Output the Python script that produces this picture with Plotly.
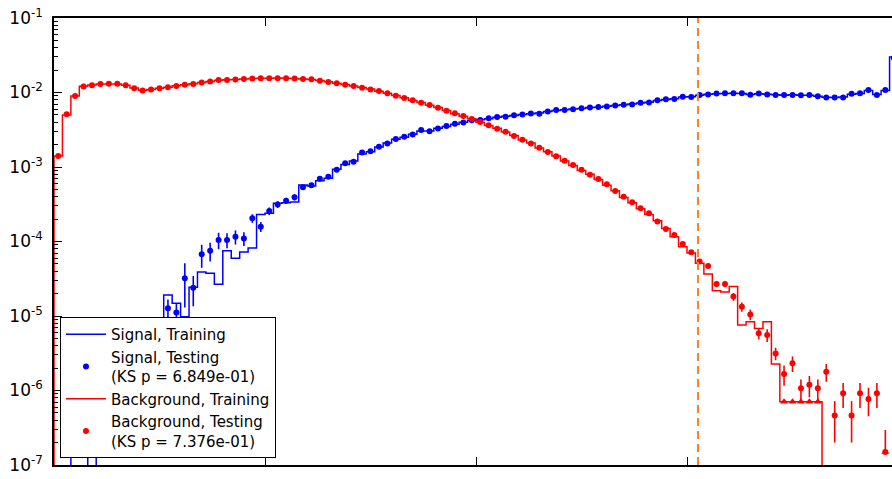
import plotly.graph_objects as go

# ---------------- data (100 bins on [0, 1]) ----------------
n_bins = 100
x_min, x_max = 0.0, 1.0

sig_train = [0, 0, 3e-7, 3e-7, 0, 4e-7, 1e-6, 1.2e-6, 2e-6, 2.5e-6,
             3.5e-6, 5e-6, 6e-6, 1.91e-5, 1.48e-5, 9.8e-6, 2.43e-5, 3.9e-5, 3.74e-5, 2.67e-5,
             7.5e-5, 5.95e-5, 7.25e-5, 8.2e-5, 2.3e-4, 2.39e-4, 3.26e-4, 3.3e-4, 3.4e-4, 5.73e-4,
             5.55e-4, 6.55e-4, 7.05e-4, 9.3e-4, 1.08e-3, 1.2e-3, 1.5e-3, 1.6e-3, 1.85e-3, 2.1e-3,
             2.35e-3, 2.5e-3, 2.75e-3, 3.05e-3, 3.05e-3, 3.3e-3, 3.5e-3, 3.75e-3, 4.0e-3, 4.2e-3,
             4.3e-3, 4.45e-3, 4.65e-3, 4.8e-3, 4.9e-3, 5.05e-3, 5.2e-3, 5.3e-3, 5.55e-3, 5.75e-3,
             5.85e-3, 6.0e-3, 6.1e-3, 6.3e-3, 6.35e-3, 6.55e-3, 6.7e-3, 6.85e-3, 7.0e-3, 7.25e-3,
             7.4e-3, 7.8e-3, 8.05e-3, 8.25e-3, 8.7e-3, 8.8e-3, 9.2e-3, 9.45e-3, 9.65e-3, 9.7e-3,
             9.8e-3, 9.7e-3, 9.4e-3, 9.65e-3, 9.45e-3, 9.3e-3, 9.2e-3, 9.3e-3, 9.2e-3, 9.2e-3,
             8.9e-3, 8.65e-3, 8.6e-3, 8.7e-3, 9.5e-3, 9.7e-3, 1.06e-2, 9.4e-3, 1.06e-2, 3.0e-2]

sig_test = [0, 0, 2e-7, 4e-7, 0, 5e-7, 8e-7, 1.5e-6, 2e-6, 3e-6,
            4e-6, 5e-6, 7e-6, 1.27e-5, 1.11e-5, 3.2e-5, 2.4e-5, 6.73e-5, 7.5e-5, 1.05e-4,
            1.05e-4, 1.16e-4, 1.1e-4, 2.05e-4, 1.58e-4, 2.56e-4, 3.15e-4, 3.53e-4, 3.92e-4, 5.35e-4,
            5.7e-4, 6.95e-4, 7.4e-4, 9.2e-4, 1.12e-3, 1.18e-3, 1.56e-3, 1.63e-3, 1.87e-3, 2.06e-3,
            2.38e-3, 2.54e-3, 2.73e-3, 3.14e-3, 3.02e-3, 3.28e-3, 3.56e-3, 3.8e-3, 3.97e-3, 4.23e-3,
            4.28e-3, 4.5e-3, 4.69e-3, 4.74e-3, 4.94e-3, 5.07e-3, 5.22e-3, 5.2e-3, 5.58e-3, 5.82e-3,
            5.82e-3, 5.97e-3, 6.13e-3, 6.27e-3, 6.4e-3, 6.5e-3, 6.7e-3, 6.87e-3, 6.9e-3, 7.3e-3,
            7.32e-3, 7.85e-3, 8.1e-3, 8.15e-3, 8.8e-3, 8.7e-3, 9.25e-3, 9.4e-3, 9.7e-3, 9.75e-3,
            9.75e-3, 9.75e-3, 9.3e-3, 9.7e-3, 9.4e-3, 9.25e-3, 9.25e-3, 9.25e-3, 9.2e-3, 9.25e-3,
            8.9e-3, 8.6e-3, 8.6e-3, 8.6e-3, 9.6e-3, 9.75e-3, 1.08e-2, 9.25e-3, 1.08e-2, 2.9e-2]

sig_err_bins = [13, 14, 15, 16, 17, 18, 19, 20, 21, 22, 23, 24, 25, 26, 27, 28]
sig_err_vals = [4e-6, 3.5e-6, 1.9e-5, 1.05e-5, 2.3e-5, 2.1e-5, 2.6e-5, 2.4e-5,
                2.5e-5, 2.3e-5, 2.7e-5, 2.4e-5, 3e-5, 3.3e-5, 3.5e-5, 3.7e-5]

bkg_train = [1.4e-3, 5.0e-3, 9.0e-3, 1.21e-2, 1.26e-2, 1.3e-2, 1.3e-2, 1.3e-2, 1.25e-2, 1.15e-2,
             1.07e-2, 1.1e-2, 1.14e-2, 1.18e-2, 1.23e-2, 1.27e-2, 1.31e-2, 1.36e-2, 1.41e-2, 1.46e-2,
             1.48e-2, 1.5e-2, 1.52e-2, 1.54e-2, 1.55e-2, 1.55e-2, 1.56e-2, 1.55e-2, 1.54e-2, 1.52e-2,
             1.5e-2, 1.45e-2, 1.39e-2, 1.33e-2, 1.28e-2, 1.22e-2, 1.17e-2, 1.11e-2, 1.04e-2, 9.8e-3,
             9.1e-3, 8.5e-3, 7.8e-3, 7.35e-3, 6.75e-3, 6.3e-3, 5.75e-3, 5.2e-3, 4.8e-3, 4.45e-3,
             4.0e-3, 3.6e-3, 3.3e-3, 2.95e-3, 2.65e-3, 2.3e-3, 2.1e-3, 1.8e-3, 1.6e-3, 1.4e-3,
             1.2e-3, 1.05e-3, 9.0e-4, 8.0e-4, 6.8e-4, 5.7e-4, 4.8e-4, 3.9e-4, 3.3e-4, 2.75e-4,
             2.3e-4, 1.9e-4, 1.5e-4, 1.16e-4, 8.5e-5, 7.0e-5, 5.09e-5, 3.66e-5, 2.19e-5, 2.1e-5,
             2.48e-5, 7.57e-6, 8.4e-6, 6.8e-6, 8.4e-6, 2.27e-6, 7.08e-7, 7.08e-7, 7.08e-7, 7.08e-7,
             7.08e-7, 0, 0, 0, 0, 0, 0, 0, 0, 0]

bkg_test = [1.4e-3, 5.1e-3, 9.0e-3, 1.2e-2, 1.25e-2, 1.3e-2, 1.31e-2, 1.31e-2, 1.25e-2, 1.14e-2,
            1.06e-2, 1.1e-2, 1.14e-2, 1.18e-2, 1.22e-2, 1.27e-2, 1.3e-2, 1.36e-2, 1.41e-2, 1.47e-2,
            1.47e-2, 1.5e-2, 1.52e-2, 1.54e-2, 1.55e-2, 1.55e-2, 1.55e-2, 1.55e-2, 1.54e-2, 1.52e-2,
            1.51e-2, 1.44e-2, 1.38e-2, 1.33e-2, 1.27e-2, 1.22e-2, 1.16e-2, 1.10e-2, 1.05e-2, 9.75e-3,
            9.06e-3, 8.43e-3, 7.85e-3, 7.30e-3, 6.79e-3, 6.25e-3, 5.70e-3, 5.25e-3, 4.84e-3, 4.41e-3,
            4.02e-3, 3.63e-3, 3.27e-3, 2.98e-3, 2.61e-3, 2.33e-3, 2.06e-3, 1.81e-3, 1.59e-3, 1.39e-3,
            1.21e-3, 1.06e-3, 9.2e-4, 7.9e-4, 6.9e-4, 5.85e-4, 4.76e-4, 4.0e-4, 3.36e-4, 2.79e-4,
            2.39e-4, 1.85e-4, 1.47e-4, 1.22e-4, 9.25e-5, 7.2e-5, 5.4e-5, 4.69e-5, 2.69e-5, 2.69e-5,
            1.82e-5, 1.33e-5, 1.05e-5, 5.85e-6, 5.56e-6, 3.15e-6, 1.66e-6, 2.32e-6, 1.07e-6, 1.19e-6,
            1.07e-6, 1.79e-6, 4.6e-7, 9.2e-7, 4.6e-7, 9.2e-7, 7.7e-7, 9.2e-7, 1.5e-7, 0]

bkg_err_bins = [74, 75, 76, 77, 78, 79, 80, 81, 82, 83, 84, 85, 86, 87, 88, 89, 90,
                91, 92, 93, 94, 95, 96, 97, 98]
bkg_err_up = [5e-6, 4e-6, 3.5e-6, 3.3e-6, 2.6e-6, 2.6e-6, 2.2e-6, 1.9e-6, 1.7e-6, 1.0e-6,
              1.1e-6, 6e-7, 5e-7, 5.5e-7, 3.3e-7, 3.8e-7, 3.3e-7, 4.8e-7, 2.6e-7, 3.4e-7,
              2.6e-7, 3.4e-7, 3.2e-7, 3.4e-7, 1.45e-7]
bkg_err_dn = [5e-6, 4e-6, 3.5e-6, 3.3e-6, 2.6e-6, 2.6e-6, 2.2e-6, 1.9e-6, 1.7e-6, 1.0e-6,
              1.1e-6, 6e-7, 5e-7, 5.5e-7, 3.3e-7, 3.8e-7, 3.3e-7, 4.8e-7, 2.6e-7, 3.4e-7,
              2.6e-7, 3.4e-7, 3.2e-7, 3.4e-7, 0]

# lower-limit triangles (single-entry bins)
tri_bins = [86, 87, 88, 89, 90, 98]
tri_vals = [7.08e-7, 7.08e-7, 7.08e-7, 7.08e-7, 7.08e-7, 1.5e-7]

cut_value = 0.763
y_tick_exps = [-7, -6, -5, -4, -3, -2, -1]
x_tick_vals = [0.25, 0.5, 0.75]

legend_names = ["Signal, Training",
                "Signal, Testing<br>(KS p = 6.849e-01)",
                "Background, Training",
                "Background, Testing<br>(KS p = 7.376e-01)"]

# ---------------- helpers ----------------
bw = (x_max - x_min) / n_bins
edges = [x_min + i * bw for i in range(n_bins + 1)]
centers = [x_min + (i + 0.5) * bw for i in range(n_bins)]
FLOOR = 1e-12  # stands in for zero on the log axis (drawn below the frame)


def step_xy(vals):
    xs = [edges[0]] + edges[:n_bins] + [edges[n_bins]]
    ys = [FLOOR] + [v if v > 0 else FLOOR for v in vals] + [FLOOR]
    return xs, ys


def full_err(bins, vals):
    e = [0.0] * n_bins
    for b, v in zip(bins, vals):
        e[b] = v
    return e


def pts(vals):
    return [v if v > 0 else None for v in vals]


BLUE = "#0000ff"
RED = "#ff0000"

fig = go.Figure()

sx, sy = step_xy(sig_train)
fig.add_trace(go.Scatter(x=sx, y=sy, mode="lines", line=dict(color=BLUE, width=1.5, shape="hv"),
                         name=legend_names[0]))
fig.add_trace(go.Scatter(x=centers, y=pts(sig_test), mode="markers",
                         marker=dict(color=BLUE, size=6, symbol="circle"),
                         error_y=dict(type="data", array=full_err(sig_err_bins, sig_err_vals),
                                      color=BLUE, thickness=1.6, width=0, visible=True),
                         name=legend_names[1]))

bx, by = step_xy(bkg_train)
fig.add_trace(go.Scatter(x=bx, y=by, mode="lines", line=dict(color=RED, width=1.5, shape="hv"),
                         name=legend_names[2]))
fig.add_trace(go.Scatter(x=centers, y=pts(bkg_test), mode="markers",
                         marker=dict(color=RED, size=6, symbol="circle"),
                         error_y=dict(type="data", symmetric=False,
                                      array=full_err(bkg_err_bins, bkg_err_up),
                                      arrayminus=full_err(bkg_err_bins, bkg_err_dn),
                                      color=RED, thickness=1.6, width=0, visible=True),
                         name=legend_names[3]))
fig.add_trace(go.Scatter(x=[centers[b] for b in tri_bins], y=tri_vals, mode="markers",
                         marker=dict(color=RED, size=7, symbol="triangle-up"),
                         showlegend=False, hoverinfo="skip"))

fig.add_vline(x=cut_value, line=dict(color="#ff7f2a", width=2, dash="8px,5px"))

W, H = 892, 479
ml, mt, mb = 54, 18, 14
axis_span = 844  # full [0,1] width in pixels; the right part falls outside the window
x_vis_max = x_min + (x_max - x_min) * (W - ml) / axis_span

minor_vals = [m * 10.0 ** e for e in range(-7, -1) for m in range(2, 10)]

fig.update_layout(
    width=W, height=H,
    margin=dict(l=ml, r=0, t=mt, b=mb, pad=0),
    paper_bgcolor="white", plot_bgcolor="white",
    font=dict(family="DejaVu Sans", color="black"),
    showlegend=True,
    legend=dict(x=(60 - ml) / (W - ml), y=(465 - 458) / (H - mt - mb),
                xanchor="left", yanchor="bottom",
                bgcolor="white", bordercolor="black", borderwidth=1,
                font=dict(family="DejaVu Sans", size=15, color="black"),
                tracegroupgap=0, itemwidth=40),
    xaxis=dict(range=[x_min, x_vis_max], showgrid=False, zeroline=False,
               showline=True, linecolor="black", linewidth=1.5, mirror="ticks",
               ticks="inside", ticklen=8, tickcolor="black", tickwidth=1,
               tickmode="array", tickvals=x_tick_vals, showticklabels=False),
    yaxis=dict(type="log", range=[-7, -1], showgrid=False, zeroline=False,
               showline=True, linecolor="black", linewidth=1.5, mirror=False,
               ticks="inside", ticklen=8, tickcolor="black", tickwidth=1,
               tickmode="array", tickvals=[10.0 ** e for e in y_tick_exps],
               ticktext=["10<sup>%d</sup>" % e for e in y_tick_exps],
               tickfont=dict(family="DejaVu Sans", size=17, color="black"),
               ticklabelstandoff=6,
               minor=dict(ticks="inside", ticklen=4, tickcolor="black", tickwidth=1,
                          tickmode="array", tickvals=minor_vals, showgrid=False)),
)

fig.write_html("out.html")
